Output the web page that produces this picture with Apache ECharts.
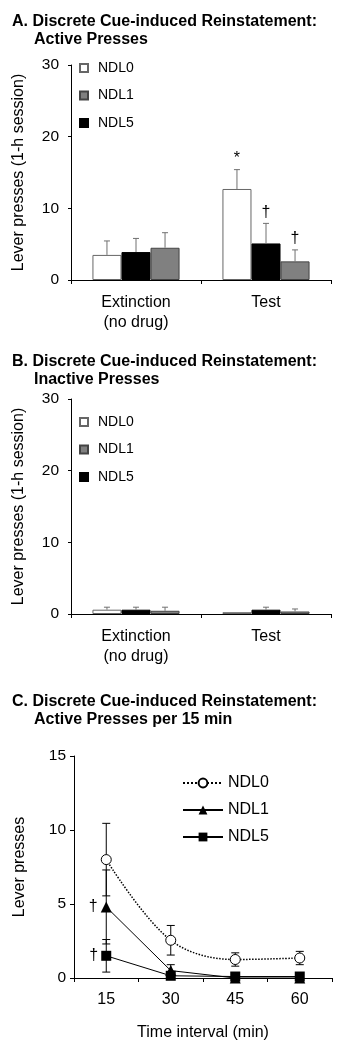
<!DOCTYPE html>
<html>
<head>
<meta charset="utf-8">
<script src="https://cdn.jsdelivr.net/npm/echarts@6/dist/echarts.min.js"></script>
<style>
  body { margin: 0; background: #fff; }
  .panel { width: 341px; }
</style>
</head>
<body>
<div id="panelA" class="panel" style="height:340px"></div>
<div id="panelB" class="panel" style="height:340px"></div>
<div id="panelC" class="panel" style="height:370px"></div>
<script>
// phases on the x axis of panels A and B
var phases = ['Extinction\n(no drug)', 'Test'];
// bars are drawn white, black, grey in each group
var groups = ['NDL0', 'NDL5', 'NDL1'];
var legendOrder = ['NDL0', 'NDL1', 'NDL5'];

// A. active presses (per group: extinction, test)
var activeMean = [[3.5, 12.7], [3.9, 5.1], [4.5, 2.6]];
var activeErr = [[1.95, 2.7], [1.9, 2.8], [2.1, 1.6]];
var activeMark = [['', '*'], ['', '†'], ['', '†']];

// B. inactive presses
var inactiveMean = [[0.6, 0.25], [0.6, 0.6], [0.45, 0.35]];
var inactiveErr = [[0.35, 0], [0.35, 0.35], [0.5, 0.35]];
var inactiveMark = [['', ''], ['', ''], ['', '']];

var barTicks = [0, 10, 20, 30];

// C. active presses per 15 min
var minutes = ['15', '30', '45', '60'];
var ndl0 = [8.0, 2.55, 1.25, 1.35];
var ndl0Err = [2.45, 1.0, 0.45, 0.45];
var ndl1 = [4.8, 0.5, 0, 0];
var ndl1Err = [2.5, 0.4, 0, 0];
var ndl5 = [1.5, 0.15, 0.1, 0.1];
var ndl5Err = [1.1, 0, 0, 0];
var ndl1Mark = ['†', '', '', ''];
var ndl5Mark = ['†', '', '', ''];
var lineTicks = [0, 5, 10, 15];

var FONT = "'Liberation Sans', Arial, sans-serif";
var fills = { NDL0: '#ffffff', NDL1: '#808080', NDL5: '#000000' };
var borders = { NDL0: '#666666', NDL1: '#444444', NDL5: '#000000' };

function titles(line1, line2) {
  var ts = { fontFamily: FONT, fontSize: 16, fontWeight: 'bold', color: '#000' };
  return [
    { text: line1, left: 12, top: 14, padding: 0, textStyle: ts },
    { text: line2, left: 34, top: 32, padding: 0, textStyle: ts }
  ];
}

// upward error bar (with optional marker text) for grouped bars
function barErr(i, marks) {
  return function (params, api) {
    var band = api.size([1, 0])[0];
    var bw = band * 0.67 / 3;
    var x = api.coord([api.value(0), 0])[0] + (i - 1) * bw;
    var yMid = api.coord([api.value(0), api.value(1)])[1];
    var yTop = api.coord([api.value(0), api.value(1) + api.value(2)])[1];
    var kids = [];
    if (api.value(2) > 0) {
      kids.push({ type: 'line', shape: { x1: x, y1: yMid, x2: x, y2: yTop }, style: { stroke: '#707070', lineWidth: 1 } });
      kids.push({ type: 'line', shape: { x1: x - 3, y1: yTop, x2: x + 3, y2: yTop }, style: { stroke: '#707070', lineWidth: 1 } });
    }
    var mark = marks[i][params.dataIndex];
    if (mark) {
      kids.push({ type: 'text', style: { text: mark, x: x, y: yTop - 3, align: 'center', verticalAlign: 'bottom', fontFamily: FONT, fontSize: 16, fill: '#000' } });
    }
    return { type: 'group', children: kids };
  };
}

function barOption(line1, line2, means, errs, marks, gridTop, legendTop, legendGap) {
  var series = [];
  groups.forEach(function (g, i) {
    series.push({
      name: g,
      type: 'bar',
      data: means[i],
      barGap: '0%',
      barCategoryGap: '33%',
      itemStyle: { color: fills[g], borderColor: borders[g], borderWidth: 1 }
    });
  });
  groups.forEach(function (g, i) {
    series.push({
      type: 'custom',
      renderItem: barErr(i, marks),
      z: 5,
      data: means[i].map(function (m, k) { return [k, m, errs[i][k]]; })
    });
  });
  return {
    animation: false,
    title: titles(line1, line2),
    legend: {
      data: legendOrder,
      orient: 'vertical',
      left: 79,
      top: legendTop,
      icon: 'rect',
      itemWidth: 8,
      itemHeight: 8,
      itemGap: legendGap,
      padding: 0,
      selectedMode: false,
      textStyle: { fontFamily: FONT, fontSize: 14, color: '#000', lineHeight: 16, padding: [0, 0, 0, 5] }
    },
    grid: { left: 71, top: gridTop, width: 260, height: 215 },
    xAxis: {
      type: 'category',
      data: phases,
      axisLine: { lineStyle: { color: '#000', width: 1 } },
      axisTick: { show: true, interval: 0, length: 4, lineStyle: { color: '#000' } },
      axisLabel: { fontFamily: FONT, fontSize: 16, color: '#000', margin: 13, lineHeight: 20 }
    },
    yAxis: {
      type: 'value',
      min: barTicks[0],
      max: barTicks[barTicks.length - 1],
      interval: barTicks[1] - barTicks[0],
      name: 'Lever presses (1-h session)',
      nameLocation: 'middle',
      nameGap: 44,
      nameTextStyle: { fontFamily: FONT, fontSize: 16, color: '#000' },
      splitLine: { show: false },
      axisLine: { show: true, lineStyle: { color: '#000', width: 1 } },
      axisTick: { show: true, length: 3, lineStyle: { color: '#000' } },
      axisLabel: { fontFamily: FONT, fontSize: 15.5, color: '#000', margin: 12 }
    },
    series: series
  };
}

var chartA = echarts.init(document.getElementById('panelA'));
chartA.setOption(barOption('A. Discrete Cue-induced Reinstatement:', 'Active Presses',
  activeMean, activeErr, activeMark, 65, 60, 11.5));

var chartB = echarts.init(document.getElementById('panelB'));
chartB.setOption(barOption('B. Discrete Cue-induced Reinstatement:', 'Inactive Presses',
  inactiveMean, inactiveErr, inactiveMark, 59, 74, 11.5));

// two-sided error bars for the line panel
function lineErr(params, api) {
  if (api.value(2) <= 0) return null;
  var x = api.coord([api.value(0), 0])[0];
  var yHi = api.coord([api.value(0), api.value(1) + api.value(2)])[1];
  var yLo = api.coord([api.value(0), Math.max(0, api.value(1) - api.value(2))])[1];
  var st = { stroke: '#000', lineWidth: 1 };
  return {
    type: 'group',
    children: [
      { type: 'line', shape: { x1: x, y1: yLo, x2: x, y2: yHi }, style: st },
      { type: 'line', shape: { x1: x - 4, y1: yHi, x2: x + 4, y2: yHi }, style: st },
      { type: 'line', shape: { x1: x - 4, y1: yLo, x2: x + 4, y2: yLo }, style: st }
    ]
  };
}

function errData(mean, err) {
  return mean.map(function (m, k) { return [k, m, err[k]]; });
}

function daggerLabel(marks) {
  return {
    show: true,
    position: 'left',
    distance: 3,
    fontFamily: FONT,
    fontSize: 16,
    color: '#000',
    formatter: function (p) { return marks[p.dataIndex]; }
  };
}

var chartC = echarts.init(document.getElementById('panelC'));
chartC.setOption({
  animation: false,
  title: titles('C. Discrete Cue-induced Reinstatement:', 'Active Presses per 15 min'),
  legend: {
    data: legendOrder,
    orient: 'vertical',
    left: 182,
    top: 95,
    itemWidth: 40,
    itemHeight: 11,
    itemGap: 11,
    padding: 0,
    selectedMode: false,
    textStyle: { fontFamily: FONT, fontSize: 16, color: '#000', lineHeight: 16 }
  },
  grid: { left: 74, top: 76, width: 258, height: 222 },
  xAxis: {
    type: 'category',
    data: minutes,
    name: 'Time interval (min)',
    nameLocation: 'middle',
    nameGap: 47,
    nameTextStyle: { fontFamily: FONT, fontSize: 16, color: '#000' },
    axisLine: { lineStyle: { color: '#000', width: 1 } },
    axisTick: { show: true, interval: 0, length: 4, lineStyle: { color: '#000' } },
    axisLabel: { fontFamily: FONT, fontSize: 16, color: '#000', margin: 14 }
  },
  yAxis: {
    type: 'value',
    min: lineTicks[0],
    max: lineTicks[lineTicks.length - 1],
    interval: lineTicks[1] - lineTicks[0],
    name: 'Lever presses',
    nameLocation: 'middle',
    nameGap: 46,
    nameTextStyle: { fontFamily: FONT, fontSize: 16, color: '#000' },
    splitLine: { show: false },
    axisLine: { show: true, lineStyle: { color: '#000', width: 1 } },
    axisTick: { show: true, length: 4, lineStyle: { color: '#000' } },
    axisLabel: { fontFamily: FONT, fontSize: 15.5, color: '#000', margin: 8 }
  },
  series: [
    { type: 'custom', renderItem: lineErr, data: errData(ndl0, ndl0Err), z: 1 },
    { type: 'custom', renderItem: lineErr, data: errData(ndl1, ndl1Err), z: 1 },
    { type: 'custom', renderItem: lineErr, data: errData(ndl5, ndl5Err), z: 1 },
    {
      name: 'NDL0', type: 'line', data: ndl0, smooth: 0.35, z: 3,
      symbol: 'circle', symbolSize: 10, showAllSymbol: true,
      lineStyle: { color: '#000', width: 1.5, type: 'dotted' },
      itemStyle: { color: '#fff', borderColor: '#000', borderWidth: 1 }
    },
    {
      name: 'NDL1', type: 'line', data: ndl1, z: 3,
      symbol: 'triangle', symbolSize: 11,
      lineStyle: { color: '#000', width: 1 },
      itemStyle: { color: '#000' },
      label: daggerLabel(ndl1Mark)
    },
    {
      name: 'NDL5', type: 'line', data: ndl5, z: 4,
      symbol: 'rect', symbolSize: 10,
      lineStyle: { color: '#000', width: 1 },
      itemStyle: { color: '#000' },
      label: daggerLabel(ndl5Mark)
    }
  ]
});
</script>
</body>
</html>
